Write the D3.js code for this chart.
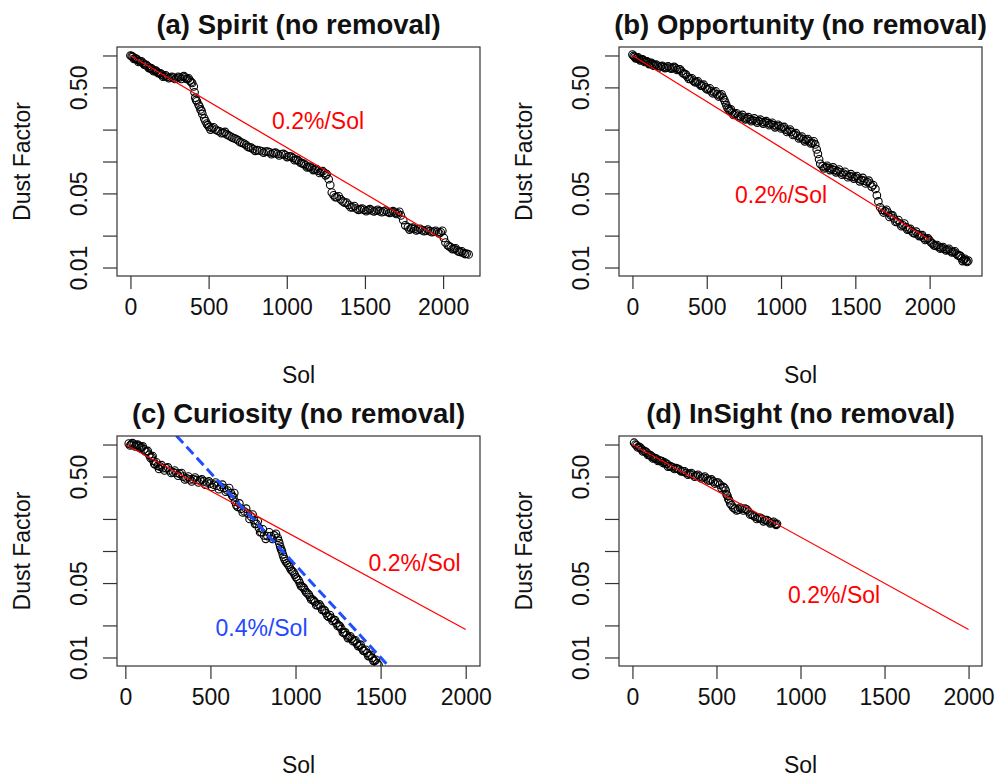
<!DOCTYPE html>
<html>
<head>
<meta charset="utf-8">
<script src="https://cdn.jsdelivr.net/npm/d3@7"></script>
<style>
  body { margin: 0; background: #fff; }
  text { font-family: "Liberation Sans", Arial, sans-serif; }
</style>
</head>
<body>
<div id="chart"></div>
<script>
// dust factor vs sol
const titles = ["(a) Spirit (no removal)", "(b) Opportunity (no removal)",
                "(c) Curiosity (no removal)", "(d) InSight (no removal)"];

const spirit = [[0,1.0],[15,0.97],[30,0.94],[45,0.91],[60,0.88],[80,0.85],[95,0.82],[110,0.79],[125,0.76],[140,0.74],
  [155,0.72],[170,0.70],[185,0.68],[200,0.66],[215,0.64],[235,0.63],[255,0.62],[275,0.62],[295,0.61],[315,0.62],
  [335,0.63],[350,0.62],[365,0.60],[380,0.58],[395,0.55],[405,0.51],[410,0.45],[415,0.40],[425,0.37],[435,0.345],
  [448,0.31],[460,0.28],[472,0.255],[488,0.228],[503,0.212],[520,0.207],[545,0.2],[570,0.192],[595,0.186],[615,0.18],
  [640,0.172],[665,0.165],[690,0.158],[715,0.15],[740,0.143],[760,0.136],[785,0.131],[810,0.128],[840,0.125],[865,0.124],
  [890,0.122],[915,0.12],[940,0.118],[965,0.117],[990,0.115],[1015,0.112],[1040,0.108],[1060,0.104],[1080,0.1],[1100,0.096],
  [1120,0.092],[1140,0.089],[1160,0.086],[1180,0.084],[1200,0.082],[1220,0.08],[1240,0.078],[1255,0.076],[1268,0.068],[1278,0.06],
  [1288,0.051],[1300,0.048],[1320,0.046],[1345,0.044],[1370,0.041],[1395,0.039],[1420,0.037],[1445,0.036],[1470,0.0355],[1495,0.035],
  [1520,0.0348],[1545,0.0345],[1570,0.0343],[1595,0.034],[1620,0.0338],[1645,0.0335],[1670,0.0333],[1690,0.033],[1710,0.0325],[1730,0.031],
  [1745,0.028],[1758,0.025],[1775,0.024],[1795,0.0234],[1815,0.0231],[1840,0.0228],[1865,0.0225],[1890,0.0223],[1915,0.022],[1940,0.0218],
  [1965,0.0216],[1985,0.0215],[1995,0.0222],[2005,0.019],[2015,0.0172],[2030,0.0162],[2050,0.0155],[2070,0.015],[2090,0.0145],[2110,0.014],
  [2130,0.0137],[2150,0.0135],[2163,0.0133]];
const spiritScatter = [[8,0.985],[22,0.93],[38,0.93],[52,0.87],[70,0.88],[88,0.82],[102,0.81],[118,0.76],[132,0.76],[148,0.71],
  [162,0.72],[178,0.68],[192,0.68],[208,0.63],[225,0.65],[245,0.61],[265,0.63],[285,0.6],[305,0.63],[325,0.6],
  [342,0.64],[358,0.6],[372,0.61],[388,0.56],[420,0.38],[442,0.33],[455,0.3],[480,0.24],[495,0.22],[512,0.2],
  [532,0.21],[558,0.195],[582,0.185],[605,0.19],[628,0.176],[652,0.168],[678,0.162],[702,0.152],[728,0.147],[750,0.138],
  [772,0.135],[798,0.126],[825,0.127],[852,0.121],[878,0.124],[902,0.117],[928,0.121],[952,0.114],[978,0.118],[1002,0.11],
  [1028,0.111],[1050,0.103],[1070,0.103],[1090,0.097],[1110,0.095],[1130,0.088],[1150,0.089],[1170,0.083],[1190,0.085],[1210,0.078],
  [1230,0.081],[1248,0.074],[1310,0.046],[1332,0.047],[1358,0.042],[1382,0.041],[1408,0.037],[1432,0.038],[1458,0.035],[1482,0.036],
  [1508,0.034],[1532,0.0355],[1558,0.0338],[1582,0.035],[1608,0.0332],[1632,0.0345],[1658,0.0328],[1680,0.034],[1700,0.032],[1720,0.0335],
  [1785,0.0228],[1805,0.0238],[1828,0.0224],[1852,0.0232],[1878,0.022],[1902,0.0228],[1928,0.0215],[1952,0.0222],[1975,0.021],[2040,0.0158],
  [2060,0.0149],[2080,0.0152],[2100,0.0141],[2120,0.0142],[2140,0.0134]];

const opportunity = [[0,1.02],[15,0.97],[30,0.95],[45,0.93],[60,0.92],[75,0.9],[90,0.88],[105,0.86],[120,0.84],[135,0.83],
  [150,0.81],[170,0.8],[190,0.79],[210,0.78],[230,0.77],[250,0.77],[270,0.76],[290,0.76],[310,0.74],[330,0.71],
  [350,0.67],[370,0.63],[390,0.6],[410,0.58],[430,0.56],[450,0.54],[470,0.52],[490,0.5],[510,0.48],[530,0.46],
  [550,0.45],[570,0.43],[590,0.42],[610,0.4],[625,0.36],[640,0.32],[655,0.3],[670,0.29],[690,0.28],[710,0.27],
  [730,0.265],[750,0.26],[770,0.255],[790,0.25],[810,0.245],[830,0.24],[850,0.24],[870,0.235],[890,0.235],[910,0.23],
  [930,0.225],[950,0.22],[970,0.215],[990,0.215],[1010,0.21],[1030,0.2],[1050,0.195],[1070,0.19],[1090,0.18],[1110,0.175],
  [1130,0.168],[1150,0.162],[1170,0.16],[1190,0.155],[1210,0.15],[1230,0.145],[1240,0.13],[1248,0.118],[1256,0.105],[1264,0.095],
  [1280,0.09],[1300,0.088],[1320,0.087],[1340,0.085],[1360,0.083],[1380,0.081],[1400,0.079],[1420,0.077],[1440,0.075],[1460,0.073],
  [1480,0.072],[1500,0.071],[1520,0.069],[1540,0.067],[1560,0.066],[1580,0.064],[1600,0.062],[1620,0.06],[1635,0.055],[1645,0.048],
  [1655,0.042],[1667,0.037],[1680,0.035],[1700,0.034],[1720,0.033],[1740,0.031],[1760,0.029],[1780,0.027],[1800,0.026],[1820,0.025],
  [1840,0.024],[1860,0.023],[1880,0.022],[1900,0.021],[1920,0.0205],[1940,0.02],[1960,0.019],[1980,0.0185],[2000,0.018],[2020,0.0168],
  [2040,0.016],[2060,0.0157],[2080,0.0153],[2100,0.015],[2120,0.0147],[2140,0.0144],[2160,0.014],[2180,0.0135],[2200,0.013],[2215,0.0122],
  [2230,0.0118],[2245,0.0116],[2260,0.0116]];
const opportunityScatter = [[8,0.99],[22,0.94],[38,0.96],[52,0.9],[68,0.92],[82,0.87],[98,0.88],[112,0.83],[128,0.85],[142,0.8],
  [160,0.82],[180,0.77],[200,0.8],[220,0.76],[240,0.79],[260,0.75],[280,0.78],[300,0.73],[320,0.74],[340,0.68],
  [360,0.66],[380,0.6],[400,0.61],[420,0.56],[440,0.57],[460,0.52],[480,0.53],[500,0.48],[520,0.49],[540,0.44],
  [560,0.46],[580,0.41],[600,0.43],[618,0.38],[632,0.34],[648,0.31],[662,0.31],[680,0.275],[700,0.285],[720,0.26],
  [740,0.275],[760,0.25],[780,0.262],[800,0.24],[820,0.255],[840,0.232],[860,0.248],[880,0.228],[900,0.24],[920,0.22],
  [940,0.232],[960,0.21],[980,0.222],[1000,0.205],[1020,0.212],[1040,0.19],[1060,0.2],[1080,0.178],[1100,0.185],[1120,0.165],
  [1140,0.172],[1160,0.155],[1180,0.163],[1200,0.148],[1220,0.155],[1290,0.086],[1310,0.091],[1330,0.083],[1350,0.088],[1370,0.079],
  [1390,0.084],[1410,0.075],[1430,0.08],[1450,0.071],[1470,0.076],[1490,0.069],[1510,0.073],[1530,0.065],[1550,0.07],[1570,0.062],
  [1590,0.066],[1610,0.058],[1690,0.033],[1710,0.035],[1730,0.03],[1750,0.031],[1770,0.027],[1790,0.028],[1810,0.0245],[1830,0.026],
  [1850,0.0228],[1870,0.0232],[1890,0.0212],[1910,0.0218],[1930,0.0198],[1950,0.0202],[1970,0.0182],[1990,0.0188],[2010,0.0172],[2030,0.0162],
  [2050,0.0163],[2070,0.0151],[2090,0.0156],[2110,0.0145],[2130,0.015],[2150,0.0139],[2170,0.0142],[2190,0.013],[2208,0.0128],[2222,0.0115],
  [2238,0.0121],[2252,0.0113]];

const curiosity = [[20,1.02],[35,1.0],[50,1.0],[65,0.99],[80,0.97],[95,0.94],[110,0.9],[125,0.86],[140,0.8],[155,0.76],
  [165,0.7],[175,0.65],[190,0.63],[205,0.62],[220,0.6],[240,0.6],[260,0.57],[280,0.55],[300,0.54],[320,0.53],
  [340,0.5],[360,0.48],[380,0.47],[400,0.47],[420,0.465],[440,0.46],[460,0.45],[480,0.44],[500,0.43],[520,0.42],
  [540,0.41],[560,0.4],[580,0.39],[600,0.37],[620,0.35],[635,0.32],[645,0.29],[660,0.26],[680,0.25],[700,0.235],
  [720,0.225],[740,0.21],[755,0.195],[770,0.18],[785,0.165],[800,0.15],[815,0.14],[835,0.138],[855,0.138],[875,0.14],
  [895,0.133],[905,0.118],[915,0.104],[925,0.093],[935,0.084],[950,0.077],[965,0.071],[980,0.065],[995,0.06],[1010,0.055],
  [1025,0.05],[1040,0.046],[1055,0.043],[1070,0.04],[1085,0.037],[1100,0.035],[1115,0.033],[1130,0.031],[1148,0.03],[1165,0.028],
  [1180,0.026],[1195,0.024],[1210,0.0235],[1225,0.0225],[1240,0.021],[1255,0.02],[1270,0.0185],[1285,0.017],[1300,0.0162],[1315,0.0155],
  [1330,0.015],[1345,0.0143],[1360,0.0135],[1375,0.013],[1390,0.0122],[1405,0.0115],[1420,0.011],[1435,0.0104],[1450,0.0099],[1465,0.0093],
  [1480,0.0088]];
const curiosityScatter = [[28,0.98],[42,1.03],[58,0.96],[72,1.0],[88,0.93],[102,0.96],[118,0.86],[132,0.87],[148,0.75],[160,0.78],
  [170,0.66],[182,0.68],[198,0.59],[212,0.64],[230,0.57],[250,0.61],[270,0.54],[290,0.57],[310,0.51],[330,0.54],
  [350,0.47],[370,0.5],[390,0.45],[410,0.49],[430,0.44],[450,0.47],[470,0.42],[490,0.45],[510,0.4],[530,0.44],
  [550,0.38],[570,0.42],[590,0.36],[610,0.39],[628,0.33],[640,0.35],[652,0.27],[670,0.28],[690,0.23],[710,0.25],
  [730,0.2],[748,0.22],[762,0.18],[778,0.19],[792,0.15],[808,0.16],[825,0.13],[845,0.15],[865,0.13],[885,0.145],
  [900,0.125],[910,0.11],[920,0.1],[930,0.088],[942,0.08],[958,0.074],[972,0.067],[988,0.063],[1002,0.057],[1018,0.053],
  [1032,0.047],[1048,0.045],[1062,0.041],[1078,0.039],[1092,0.035],[1108,0.034],[1122,0.031],[1140,0.0315],[1156,0.028],[1172,0.0275],
  [1188,0.0245],[1202,0.025],[1218,0.022],[1232,0.0225],[1248,0.0198],[1262,0.0195],[1278,0.0172],[1292,0.0172],[1308,0.0152],[1322,0.0158],
  [1338,0.0142],[1352,0.0145],[1368,0.0128],[1382,0.0132],[1398,0.0116],[1412,0.0118],[1428,0.0103],[1442,0.0106],[1458,0.0093],[1472,0.0095],
  [1488,0.0085]];

const insight = [[10,1.04],[25,0.98],[40,0.95],[55,0.9],[70,0.87],[85,0.84],[100,0.8],[115,0.77],[130,0.75],[145,0.73],
  [160,0.71],[175,0.7],[190,0.68],[205,0.66],[220,0.63],[240,0.61],[260,0.6],[280,0.58],[300,0.56],[320,0.54],
  [340,0.53],[360,0.52],[380,0.51],[400,0.5],[420,0.49],[440,0.48],[460,0.46],[480,0.45],[500,0.44],[520,0.42],
  [540,0.4],[555,0.37],[565,0.33],[575,0.3],[590,0.27],[610,0.25],[630,0.245],[650,0.25],[670,0.25],[690,0.235],
  [710,0.22],[730,0.21],[750,0.205],[770,0.2],[790,0.195],[810,0.19],[830,0.185],[850,0.18],[860,0.18]];
const insightScatter = [[18,1.0],[32,0.94],[48,0.93],[62,0.86],[78,0.86],[92,0.8],[108,0.79],[122,0.74],[138,0.74],[152,0.7],
  [168,0.7],[182,0.67],[198,0.66],[212,0.62],[230,0.62],[250,0.59],[270,0.59],[290,0.56],[310,0.56],[330,0.52],
  [350,0.54],[370,0.5],[390,0.52],[410,0.48],[430,0.5],[450,0.46],[470,0.47],[490,0.43],[510,0.44],[530,0.39],
  [548,0.39],[560,0.34],[570,0.31],[582,0.28],[600,0.255],[620,0.24],[640,0.255],[660,0.24],[680,0.245],[700,0.22],
  [720,0.215],[740,0.2],[760,0.205],[780,0.19],[800,0.195],[820,0.182],[840,0.188],[855,0.176]];

// fitted decay lines, end points
const redLine = [[0,1.0],[2000,0.0183]];
const blueLine = [[300,1.21],[1535,0.0087]];

const xTicks = [0, 500, 1000, 1500, 2000];
const yTicks = [0.01, 0.02, 0.05, 0.1, 0.2, 0.5, 1];
const yTickLabels = ["0.01", "", "0.05", "", "", "0.50", ""];
const xLims = [[0, 2150], [0, 2262], [30, 2005], [0, 2000]];
const yLim = [0.01, 1];

const series = [spirit.concat(spiritScatter), opportunity.concat(opportunityScatter),
                curiosity.concat(curiosityScatter), insight.concat(insightScatter)];

// rate labels, placed in data units
const notes = [
  [{sol: 1200, df: 0.24, text: "0.2%/Sol", color: "#ff0000"}],
  [{sol: 1000, df: 0.048, text: "0.2%/Sol", color: "#ff0000"}],
  [{sol: 1700, df: 0.078, text: "0.2%/Sol", color: "#ff0000"},
   {sol: 800, df: 0.019, text: "0.4%/Sol", color: "#2448ff"}],
  [{sol: 1200, df: 0.0385, text: "0.2%/Sol", color: "#ff0000"}]
];

const W = 998, H = 778;
const boxes = [
  {left: 117, top: 47, right: 480, bottom: 276},
  {left: 619, top: 47, right: 982, bottom: 276},
  {left: 117, top: 436, right: 480, bottom: 666},
  {left: 619, top: 436, right: 982, bottom: 666}
];

const svg = d3.select("#chart").append("svg")
  .attr("width", W).attr("height", H)
  .style("display", "block");

// R-style 4% padding
function pad(lo, hi) {
  const d = (hi - lo) * 0.04;
  return [lo - d, hi + d];
}
const ly = pad(Math.log10(yLim[0]), Math.log10(yLim[1]));

series.forEach((data, i) => {
  const b = boxes[i];
  const w = b.right - b.left, h = b.bottom - b.top;

  const x = d3.scaleLinear().domain(pad(xLims[i][0], xLims[i][1])).range([0, w]);
  const y = d3.scaleLog().domain([Math.pow(10, ly[0]), Math.pow(10, ly[1])]).range([h, 0]);

  const g = svg.append("g").attr("transform", `translate(${b.left},${b.top})`);

  g.append("clipPath").attr("id", "clip" + i)
    .append("rect").attr("width", w).attr("height", h);

  const plot = g.append("g").attr("clip-path", `url(#clip${i})`);

  plot.selectAll("circle")
    .data(data)
    .enter()
    .append("circle")
    .attr("cx", d => x(d[0]))
    .attr("cy", d => y(d[1]))
    .attr("r", 3.8)
    .attr("fill", "none")
    .attr("stroke", "#000")
    .attr("stroke-width", 1.1);

  const line = d3.line().x(d => x(d[0])).y(d => y(d[1]));

  plot.append("path")
    .attr("d", line(redLine))
    .attr("fill", "none")
    .attr("stroke", "#ff0000")
    .attr("stroke-width", 1.2);

  if (i === 2) {
    plot.append("path")
      .attr("d", line(blueLine))
      .attr("fill", "none")
      .attr("stroke", "#1f4fff")
      .attr("stroke-width", 3)
      .attr("stroke-dasharray", "10,5");
  }

  notes[i].forEach(n => {
    g.append("text")
      .attr("x", x(n.sol))
      .attr("y", y(n.df))
      .attr("dy", "0.35em")
      .attr("text-anchor", "middle")
      .attr("font-size", 23)
      .attr("fill", n.color)
      .text(n.text);
  });

  // box
  g.append("rect")
    .attr("width", w).attr("height", h)
    .attr("fill", "none")
    .attr("stroke", "#333")
    .attr("stroke-width", 1.2);

  // x axis
  const xa = g.append("g").attr("transform", `translate(0,${h})`)
    .call(d3.axisBottom(x).tickValues(xTicks).tickSize(13).tickPadding(10).tickFormat(d3.format("d")));
  xa.select(".domain").remove();
  xa.selectAll("line").attr("stroke", "#333").attr("stroke-width", 1.2);
  xa.selectAll("text").attr("font-size", 23).attr("fill", "#111")
    .attr("font-family", "'Liberation Sans', Arial, sans-serif");

  // y axis, labels parallel to the axis
  const ya = g.append("g")
    .call(d3.axisLeft(y).tickValues(yTicks).tickSize(14).tickFormat((d, k) => yTickLabels[k]));
  ya.select(".domain").remove();
  ya.selectAll("line").attr("stroke", "#333").attr("stroke-width", 1.2);
  ya.selectAll("text")
    .attr("font-size", 23).attr("fill", "#111")
    .attr("font-family", "'Liberation Sans', Arial, sans-serif")
    .attr("text-anchor", "middle")
    .attr("x", null)
    .attr("transform", "translate(-38,0) rotate(-90)")
    .attr("dy", "0.35em");

  // titles
  g.append("text")
    .attr("x", w / 2).attr("y", -13)
    .attr("text-anchor", "middle")
    .attr("font-size", 27.5)
    .attr("font-weight", "bold")
    .attr("fill", "#111")
    .text(titles[i]);

  g.append("text")
    .attr("x", w / 2).attr("y", h + 107)
    .attr("text-anchor", "middle")
    .attr("font-size", 23)
    .attr("fill", "#111")
    .text("Sol");

  g.append("text")
    .attr("transform", `translate(-87,${h / 2}) rotate(-90)`)
    .attr("text-anchor", "middle")
    .attr("font-size", 23)
    .attr("fill", "#111")
    .text("Dust Factor");
});
</script>
</body>
</html>
